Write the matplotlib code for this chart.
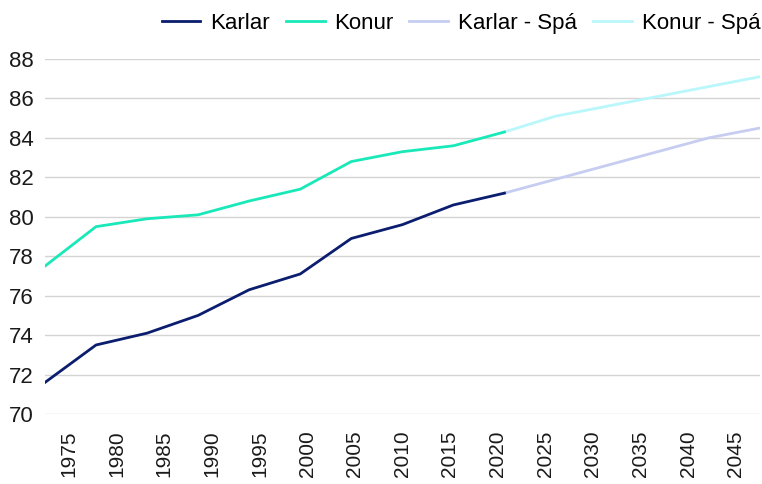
import numpy as np
import matplotlib.pyplot as plt

plt.rcParams['font.family'] = ['Liberation Sans', 'DejaVu Sans']

# Flokkar (ár) á x-ás
ar = ['1975', '1980', '1985', '1990', '1995', '2000', '2005', '2010',
      '2015', '2020', '2025', '2030', '2035', '2040', '2045']

# Lífslíkur - söguleg gögn (10 fyrstu punktar)
karlar = [71.6, 73.5, 74.1, 75.0, 76.3, 77.1, 78.9, 79.6, 80.6, 81.2]
konur = [77.5, 79.5, 79.9, 80.1, 80.8, 81.4, 82.8, 83.3, 83.6, 84.3]

# Spá (frá 2020)
karlar_spa = [81.2, 81.9, 82.6, 83.3, 84.0, 84.5]
konur_spa = [84.3, 85.1, 85.6, 86.1, 86.6, 87.1]

n = len(ar)
x_hist = np.arange(len(karlar))
x_spa = np.arange(len(karlar) - 1, n)

fig = plt.figure(figsize=(7.62, 4.84), dpi=100)
ax = fig.add_axes([0.059, 0.1446, 0.938, 0.7335])

ax.plot(x_hist, karlar, color='#0b1d6e', lw=2.0, label='Karlar', zorder=3)
ax.plot(x_hist, konur, color='#19e8b9', lw=2.0, label='Konur', zorder=3)
ax.plot(x_spa, karlar_spa, color='#c6cdf0', lw=2.0, label='Karlar - Spá', zorder=2)
ax.plot(x_spa, konur_spa, color='#b9f7fb', lw=2.0, label='Konur - Spá', zorder=2)

ax.set_xlim(0, n - 1)
ax.set_ylim(70, 88)
ax.set_yticks(np.arange(70, 89, 2))

# merkimiðar miðjaðir í hverjum flokki
ax.set_xticks((np.arange(n) + 0.5) * (n - 1) / n)
ax.set_xticklabels(ar, rotation=90, fontsize=15, color='#1a1a1a')
ax.tick_params(axis='y', labelsize=16, colors='#1a1a1a', length=0, pad=8)
ax.tick_params(axis='x', length=0, pad=12)

ax.grid(axis='y', color='#d4d4d4', lw=1.0)
ax.set_axisbelow(True)
for s in ax.spines.values():
    s.set_visible(False)

fig.legend(loc='upper right', bbox_to_anchor=(1.024, 1.015), ncol=4, frameon=False,
           fontsize=16, handlelength=1.75, columnspacing=0.7, handletextpad=0.45)

fig.savefig('out.png', dpi=100)
